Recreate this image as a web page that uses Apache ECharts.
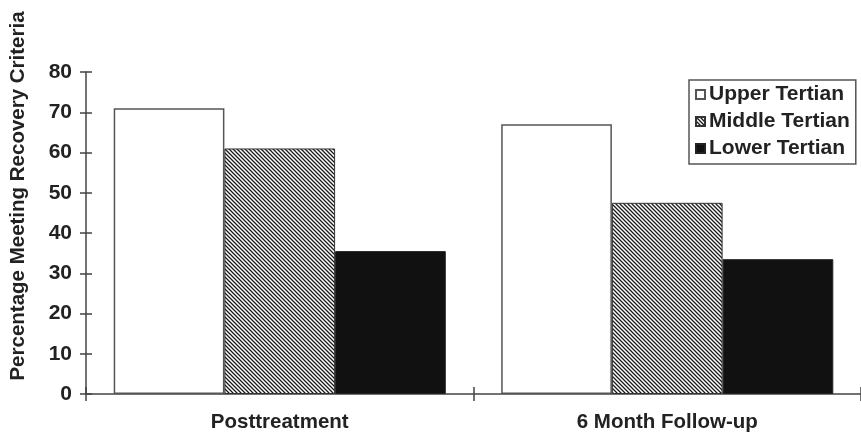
<!DOCTYPE html>
<html>
<head>
<meta charset="utf-8">
<script src="https://cdn.jsdelivr.net/npm/echarts@6/dist/echarts.min.js"></script>
<style>html,body{margin:0;padding:0;background:#fff}#c{width:861px;height:433px}</style>
</head>
<body>
<div id="c"></div>
<script>
var categories = ['Posttreatment', '6 Month Follow-up'];
var seriesNames = ['Upper Tertian', 'Middle Tertian', 'Lower Tertian'];
var upperValues = [71, 67];
var middleValues = [61, 47.5];
var lowerValues = [35.5, 33.5];
var yTicks = [0, 10, 20, 30, 40, 50, 60, 70, 80];

function hatch() {
  var c = document.createElement('canvas');
  c.width = 4; c.height = 4;
  var g = c.getContext('2d');
  g.fillStyle = '#ffffff';
  g.fillRect(0, 0, 4, 4);
  g.strokeStyle = '#1a1a1a';
  g.lineWidth = 1.3;
  g.beginPath();
  g.moveTo(-1, -1); g.lineTo(5, 5);
  g.moveTo(-1, 3); g.lineTo(1, 5);
  g.moveTo(3, -1); g.lineTo(5, 1);
  g.stroke();
  return c;
}

var font = '"Liberation Sans", Arial, sans-serif';
var axisColor = '#444';
var chart = echarts.init(document.getElementById('c'), null, {renderer: 'canvas'});
chart.setOption({
  animation: false,
  backgroundColor: '#fff',
  textStyle: {fontFamily: font},
  grid: {left: 83, top: 72, height: 326, width: 786},
  legend: {
    orient: 'vertical',
    left: 689, top: 80,
    padding: [4, 6, 5, 6],
    itemGap: 6,
    itemWidth: 9, itemHeight: 9,
    borderColor: '#555', borderWidth: 1.5,
    icon: 'rect',
    textStyle: {fontSize: 21, fontWeight: 'bold', color: '#222', fontFamily: font, padding: [0, 0, 0, -1]},
    data: seriesNames
  },
  xAxis: [{
    type: 'category',
    data: categories,
    axisLine: {lineStyle: {color: axisColor, width: 1.5}},
    axisTick: {show: true, length: 7, lineStyle: {color: axisColor, width: 1.5}},
    axisLabel: {fontSize: 20.5, fontWeight: 'bold', color: '#222', margin: 18, fontFamily: font}
  }, {
    type: 'category',
    data: categories,
    position: 'bottom',
    axisLine: {show: false},
    axisTick: {show: true, inside: true, length: 7, lineStyle: {color: axisColor, width: 1.5}},
    axisLabel: {show: false}
  }],
  yAxis: [{
    type: 'value',
    min: yTicks[0], max: yTicks[yTicks.length - 1], interval: 10,
    name: 'Percentage Meeting Recovery Criteria',
    nameLocation: 'middle',
    nameGap: 57,
    nameTextStyle: {fontSize: 20.5, fontWeight: 'bold', color: '#222', fontFamily: font, padding: [0, 0, 0, 74]},
    splitLine: {show: false},
    axisLine: {show: true, lineStyle: {color: axisColor, width: 1.5}},
    axisTick: {show: true, length: 6, lineStyle: {color: axisColor, width: 1.5}},
    axisLabel: {fontSize: 21, fontWeight: 'bold', color: '#222', margin: 14, fontFamily: font}
  }, {
    type: 'value',
    min: yTicks[0], max: yTicks[yTicks.length - 1], interval: 10,
    position: 'left',
    splitLine: {show: false},
    axisLine: {show: false},
    axisTick: {show: true, inside: true, length: 6, lineStyle: {color: axisColor, width: 1.5}},
    axisLabel: {show: false}
  }],
  series: [{
    name: seriesNames[0], type: 'bar', data: upperValues,
    barGap: '0%', barCategoryGap: '14.3%',
    itemStyle: {color: '#ffffff', borderColor: '#555', borderWidth: 1.5}
  }, {
    name: seriesNames[1], type: 'bar', data: middleValues,
    barGap: '0%', barCategoryGap: '14.3%',
    itemStyle: {color: {image: hatch(), repeat: 'repeat'}, borderColor: '#333', borderWidth: 1}
  }, {
    name: seriesNames[2], type: 'bar', data: lowerValues,
    barGap: '0%', barCategoryGap: '14.3%',
    itemStyle: {color: '#111111', borderColor: '#222', borderWidth: 1}
  }]
});
</script>
</body>
</html>
